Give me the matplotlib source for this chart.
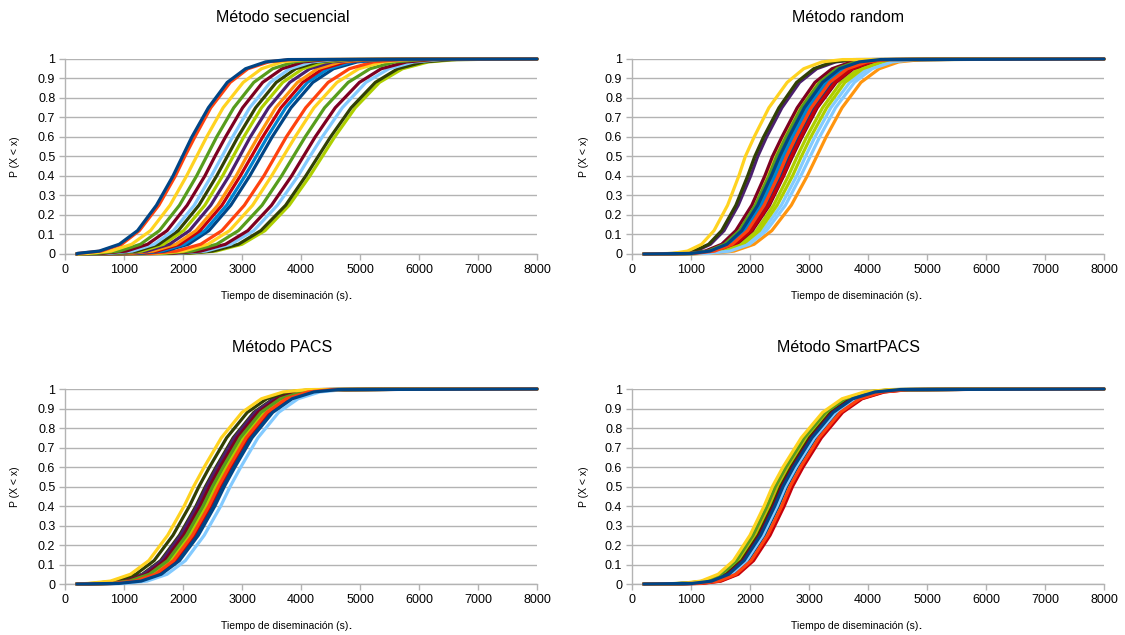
import matplotlib.pyplot as plt

plt.rcParams['font.family'] = ['Liberation Sans', 'DejaVu Sans']

# Niveles de probabilidad en los que se leen los tiempos de cada curva
niveles = [0.003, 0.015, 0.05, 0.12, 0.25, 0.4, 0.5, 0.6, 0.75, 0.88, 0.95, 0.985, 0.997]
t_inicio = 200
t_fin = 8000

# Paleta de series (se repite cada 12 series)
colores = ['#004586', '#ff420e', '#ffd320', '#579d1c', '#7e0021', '#83caff',
           '#314004', '#aecf00', '#4b1f6f', '#ff950e', '#c5000b', '#0084d1']

# Tiempos (s) en los que cada serie alcanza los niveles anteriores
secuencial = [
    [210, 580, 920, 1230, 1550, 1830, 1990, 2150, 2430, 2750, 3060, 3400, 3780],
    [230, 610, 960, 1260, 1590, 1870, 2030, 2200, 2470, 2800, 3100, 3450, 3830],
    [390, 780, 1130, 1450, 1780, 2060, 2230, 2400, 2680, 3020, 3330, 3680, 4070],
    [530, 920, 1280, 1600, 1940, 2230, 2400, 2570, 2860, 3200, 3520, 3880, 4270],
    [640, 1040, 1400, 1730, 2070, 2370, 2540, 2720, 3010, 3350, 3680, 4040, 4440],
    [740, 1140, 1510, 1840, 2190, 2480, 2660, 2840, 3130, 3480, 3810, 4180, 4590],
    [810, 1220, 1590, 1920, 2270, 2570, 2750, 2930, 3230, 3580, 3910, 4280, 4690],
    [880, 1300, 1670, 2010, 2370, 2670, 2850, 3030, 3330, 3690, 4030, 4400, 4820],
    [970, 1390, 1770, 2110, 2470, 2780, 2960, 3140, 3450, 3810, 4150, 4530, 4950],
    [1070, 1490, 1880, 2220, 2590, 2900, 3080, 3270, 3570, 3940, 4280, 4670, 5090],
    [1130, 1560, 1950, 2290, 2660, 2970, 3160, 3350, 3660, 4030, 4370, 4760, 5190],
    [1190, 1630, 2020, 2370, 2740, 3050, 3240, 3430, 3740, 4110, 4460, 4850, 5290],
    [1260, 1690, 2090, 2440, 2810, 3130, 3320, 3510, 3830, 4200, 4550, 4950, 5380],
    [1450, 1890, 2300, 2660, 3040, 3370, 3560, 3750, 4080, 4460, 4820, 5230, 5670],
    [1560, 2010, 2420, 2790, 3180, 3500, 3700, 3900, 4220, 4610, 4980, 5390, 5840],
    [1700, 2150, 2570, 2940, 3340, 3670, 3870, 4070, 4400, 4800, 5170, 5590, 6050],
    [1830, 2300, 2720, 3100, 3500, 3840, 4040, 4240, 4580, 4990, 5360, 5790, 6250],
    [1920, 2390, 2810, 3200, 3600, 3950, 4150, 4360, 4700, 5100, 5490, 5910, 6380],
    [2030, 2500, 2940, 3320, 3740, 4080, 4290, 4500, 4850, 5260, 5640, 6080, 6550],
    [2080, 2560, 3000, 3390, 3800, 4150, 4360, 4570, 4920, 5330, 5720, 6160, 6640],
]

aleatorio = [
    [1010, 1320, 1610, 1860, 2130, 2360, 2500, 2660, 2920, 3230, 3520, 3850, 4210],
    [1070, 1400, 1700, 1960, 2240, 2480, 2620, 2780, 3040, 3350, 3650, 3980, 4340],
    [680, 940, 1180, 1390, 1620, 1810, 1920, 2070, 2320, 2630, 2910, 3220, 3570],
    [980, 1290, 1570, 1820, 2090, 2320, 2450, 2610, 2870, 3180, 3470, 3790, 4150],
    [940, 1240, 1520, 1760, 2030, 2250, 2380, 2540, 2800, 3100, 3390, 3720, 4070],
    [1300, 1660, 1990, 2280, 2600, 2860, 3020, 3180, 3450, 3770, 4070, 4410, 4780],
    [770, 1050, 1300, 1520, 1760, 1960, 2080, 2230, 2490, 2790, 3080, 3400, 3750],
    [1210, 1560, 1880, 2160, 2460, 2720, 2870, 3030, 3300, 3610, 3910, 4240, 4610],
    [800, 1080, 1330, 1560, 1800, 2010, 2130, 2280, 2540, 2840, 3130, 3450, 3800],
    [1360, 1730, 2070, 2370, 2700, 2970, 3130, 3290, 3560, 3880, 4190, 4520, 4900],
    [1120, 1450, 1750, 2020, 2310, 2560, 2700, 2860, 3120, 3440, 3730, 4060, 4420],
    [1040, 1360, 1650, 1910, 2190, 2420, 2560, 2720, 2980, 3290, 3580, 3910, 4270],
    [1090, 1420, 1720, 1980, 2270, 2510, 2650, 2810, 3070, 3390, 3680, 4010, 4370],
    [1050, 1370, 1670, 1930, 2210, 2440, 2580, 2740, 3000, 3310, 3610, 3930, 4290],
    [960, 1270, 1550, 1800, 2060, 2290, 2420, 2580, 2840, 3150, 3440, 3760, 4120],
    [1020, 1340, 1620, 1880, 2150, 2380, 2520, 2680, 2940, 3250, 3540, 3870, 4230],
    [1130, 1470, 1770, 2040, 2330, 2570, 2720, 2880, 3140, 3460, 3750, 4080, 4450],
    [1250, 1610, 1930, 2220, 2530, 2790, 2940, 3100, 3370, 3690, 3990, 4320, 4690],
    [1110, 1440, 1740, 2010, 2290, 2540, 2680, 2840, 3100, 3420, 3710, 4040, 4400],
    [1180, 1520, 1830, 2110, 2400, 2650, 2800, 2960, 3230, 3540, 3840, 4170, 4540],
]

pacs = [
    [910, 1290, 1630, 1940, 2260, 2540, 2700, 2880, 3170, 3520, 3850, 4220, 4630],
    [810, 1190, 1530, 1840, 2160, 2440, 2600, 2780, 3070, 3420, 3750, 4120, 4530],
    [390, 770, 1110, 1420, 1740, 2020, 2180, 2360, 2650, 3000, 3330, 3700, 4110],
    [710, 1090, 1430, 1740, 2060, 2340, 2500, 2680, 2970, 3320, 3650, 4020, 4430],
    [660, 1040, 1380, 1690, 2010, 2290, 2450, 2630, 2920, 3270, 3600, 3970, 4380],
    [1010, 1390, 1730, 2040, 2360, 2640, 2800, 2980, 3270, 3620, 3950, 4320, 4730],
    [480, 860, 1200, 1510, 1830, 2110, 2270, 2450, 2740, 3090, 3420, 3790, 4200],
    [760, 1140, 1480, 1790, 2110, 2390, 2550, 2730, 3020, 3370, 3700, 4070, 4480],
    [610, 990, 1330, 1640, 1960, 2240, 2400, 2580, 2870, 3220, 3550, 3920, 4330],
    [790, 1170, 1510, 1820, 2140, 2420, 2580, 2760, 3050, 3400, 3730, 4100, 4510],
    [830, 1210, 1550, 1860, 2180, 2460, 2620, 2800, 3090, 3440, 3770, 4140, 4550],
    [730, 1110, 1450, 1760, 2080, 2360, 2520, 2700, 2990, 3340, 3670, 4040, 4450],
    [870, 1250, 1590, 1900, 2220, 2500, 2660, 2840, 3130, 3480, 3810, 4180, 4590],
    [850, 1230, 1570, 1880, 2200, 2480, 2640, 2820, 3110, 3460, 3790, 4160, 4570],
    [630, 1010, 1350, 1660, 1980, 2260, 2420, 2600, 2890, 3240, 3570, 3940, 4350],
    [690, 1070, 1410, 1720, 2040, 2320, 2480, 2660, 2950, 3300, 3630, 4000, 4410],
    [640, 1020, 1360, 1670, 1990, 2270, 2430, 2610, 2900, 3250, 3580, 3950, 4360],
    [770, 1150, 1490, 1800, 2120, 2400, 2560, 2740, 3030, 3380, 3710, 4080, 4490],
    [590, 970, 1310, 1620, 1940, 2220, 2380, 2560, 2850, 3200, 3530, 3900, 4310],
    [750, 1130, 1470, 1780, 2100, 2380, 2540, 2720, 3010, 3360, 3690, 4060, 4470],
]

smartpacs = [
    [1020, 1350, 1640, 1900, 2180, 2420, 2560, 2740, 3050, 3410, 3740, 4120, 4540],
    [1140, 1470, 1760, 2020, 2300, 2540, 2680, 2860, 3170, 3530, 3860, 4240, 4660],
    [840, 1170, 1460, 1720, 2000, 2240, 2380, 2560, 2870, 3230, 3560, 3940, 4360],
    [890, 1220, 1510, 1770, 2050, 2290, 2430, 2610, 2920, 3280, 3610, 3990, 4410],
    [1000, 1330, 1620, 1880, 2160, 2400, 2540, 2720, 3030, 3390, 3720, 4100, 4520],
    [1060, 1390, 1680, 1940, 2220, 2460, 2600, 2780, 3090, 3450, 3780, 4160, 4580],
    [980, 1310, 1600, 1860, 2140, 2380, 2520, 2700, 3010, 3370, 3700, 4080, 4500],
    [960, 1290, 1580, 1840, 2120, 2360, 2500, 2680, 2990, 3350, 3680, 4060, 4480],
    [1010, 1340, 1630, 1890, 2170, 2410, 2550, 2730, 3040, 3400, 3730, 4110, 4530],
    [930, 1260, 1550, 1810, 2090, 2330, 2470, 2650, 2960, 3320, 3650, 4030, 4450],
    [1180, 1510, 1800, 2060, 2340, 2580, 2720, 2900, 3210, 3570, 3900, 4280, 4700],
    [1040, 1370, 1660, 1920, 2200, 2440, 2580, 2760, 3070, 3430, 3760, 4140, 4560],
    [1080, 1410, 1700, 1960, 2240, 2480, 2620, 2800, 3110, 3470, 3800, 4180, 4600],
    [1160, 1490, 1780, 2040, 2320, 2560, 2700, 2880, 3190, 3550, 3880, 4260, 4680],
    [1100, 1430, 1720, 1980, 2260, 2500, 2640, 2820, 3130, 3490, 3820, 4200, 4620],
    [910, 1240, 1530, 1790, 2070, 2310, 2450, 2630, 2940, 3300, 3630, 4010, 4430],
    [1030, 1360, 1650, 1910, 2190, 2430, 2570, 2750, 3060, 3420, 3750, 4130, 4550],
    [1070, 1400, 1690, 1950, 2230, 2470, 2610, 2790, 3100, 3460, 3790, 4170, 4590],
    [990, 1320, 1610, 1870, 2150, 2390, 2530, 2710, 3020, 3380, 3710, 4090, 4510],
    [950, 1280, 1570, 1830, 2110, 2350, 2490, 2670, 2980, 3340, 3670, 4050, 4470],
]

titulos = ['Método secuencial', 'Método random', 'Método PACS', 'Método SmartPACS']
metodos = [secuencial, aleatorio, pacs, smartpacs]

x_ticks = [0, 1000, 2000, 3000, 4000, 5000, 6000, 7000, 8000]
y_ticks = [0, 0.1, 0.2, 0.3, 0.4, 0.5, 0.6, 0.7, 0.8, 0.9, 1]
y_etiquetas = ['0', '0.1', '0.2', '0.3', '0.4', '0.5', '0.6', '0.7', '0.8', '0.9', '1']

fig = plt.figure(figsize=(11.25, 6.35), dpi=100)

# posiciones de los cuatro paneles [izq, abajo, ancho, alto]
posiciones = [
    [0.0578, 0.600, 0.4195, 0.3071],
    [0.5618, 0.600, 0.4195, 0.3071],
    [0.0578, 0.0803, 0.4195, 0.3071],
    [0.5618, 0.0803, 0.4195, 0.3071],
]
titulo_xy = [(0.251, 0.972), (0.754, 0.972), (0.251, 0.452), (0.754, 0.452)]
xlabel_xy = [(0.253, 0.534), (0.760, 0.534), (0.253, 0.014), (0.760, 0.014)]
ylabel_xy = [(0.013, 0.753), (0.519, 0.753), (0.013, 0.233), (0.519, 0.233)]

gris = '#b3b3b3'

for k in range(4):
    ax = fig.add_axes(posiciones[k])
    series = metodos[k]
    n = len(series)
    for i, tiempos in enumerate(series):
        xs = [t_inicio] + tiempos + [t_fin]
        ys = [0] + niveles + [1]
        # la primera serie queda por encima de las demás
        ax.plot(xs, ys, color=colores[i % 12], lw=2.3, zorder=3 + n - i,
                clip_on=False, solid_capstyle='round', solid_joinstyle='round')

    ax.set_xlim(0, 8000)
    ax.set_ylim(0, 1)
    ax.set_xticks(x_ticks)
    ax.set_yticks(y_ticks)
    ax.set_yticklabels(y_etiquetas)
    ax.tick_params(axis='both', labelsize=9, color=gris, length=4, width=1,
                   labelcolor='#000000', pad=3)
    ax.yaxis.grid(True, color=gris, lw=1)
    ax.set_axisbelow(True)
    for lado in ['top', 'right']:
        ax.spines[lado].set_visible(False)
    for lado in ['left', 'bottom']:
        ax.spines[lado].set_color(gris)
        ax.spines[lado].set_linewidth(1)

    fig.text(titulo_xy[k][0], titulo_xy[k][1], titulos[k], fontsize=11.5,
             ha='center', va='center')
    etiqueta = fig.text(xlabel_xy[k][0], xlabel_xy[k][1], 'Tiempo de diseminación (s)',
                        fontsize=7.5, ha='center', va='center')
    # punto final en negrita
    ax.annotate('.', xy=(1, 0), xycoords=etiqueta, ha='left', va='bottom',
                fontsize=7.5, fontweight='bold', annotation_clip=False)
    fig.text(ylabel_xy[k][0], ylabel_xy[k][1], 'P (X < x)', fontsize=7.5,
             ha='center', va='center', rotation=90)

fig.savefig('out.png', dpi=100)
